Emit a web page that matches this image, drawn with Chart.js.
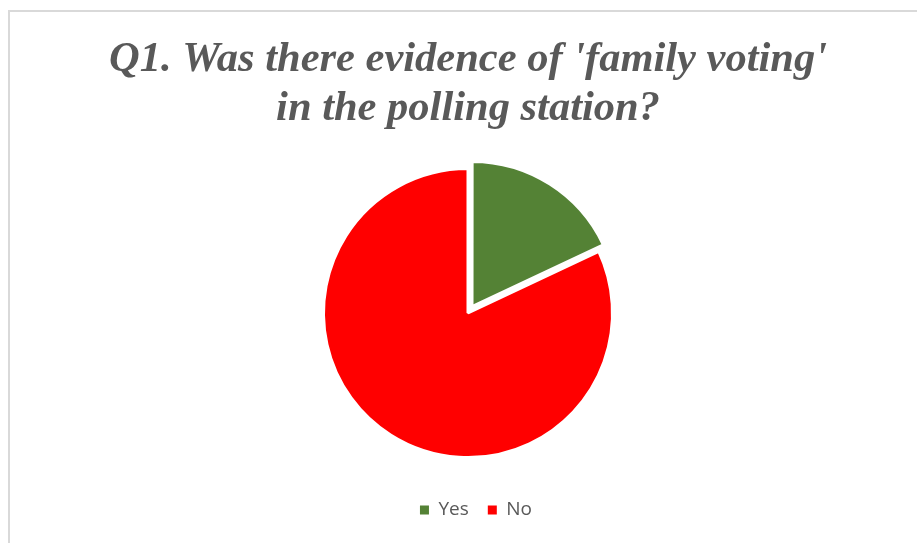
<!DOCTYPE html>
<html>
<head>
<meta charset="utf-8">
<script src="https://cdn.jsdelivr.net/npm/chart.js@4.4.1/dist/chart.umd.min.js"></script>
<style>
  html, body { margin: 0; padding: 0; background: #ffffff; }
  #wrap { position: relative; width: 917px; height: 543px; overflow: hidden; }
  #frame { position: absolute; left: 8px; top: 10px; width: 1200px; height: 1200px;
           border-top: 2px solid #d9d9d9; border-left: 2px solid #d9d9d9; box-sizing: border-box; }
  canvas { position: absolute; left: 0; top: 0; }
</style>
</head>
<body>
<div id="wrap">
  <div id="frame"></div>
  <canvas id="c" width="917" height="543"></canvas>
</div>
<script>
const titleLines = ["Q1. Was there evidence of 'family voting'", "in the polling station?"];
const categories = ["Yes", "No"];
const values = [18, 82];
const sliceColors = ["#548235", "#FF0000"];
const sliceOffsets = [30, 0];

const legendShift = {
  id: 'legendShift',
  afterLayout(chart) {
    if (chart.legend) { chart.legend.left += 8; chart.legend.right += 8; }
  }
};

new Chart(document.getElementById('c'), {
  type: 'pie',
  data: {
    labels: categories,
    datasets: [{
      data: values,
      backgroundColor: sliceColors,
      borderColor: '#ffffff',
      borderWidth: 3,
      offset: sliceOffsets,
      hoverOffset: 0
    }]
  },
  options: {
    responsive: false,
    animation: false,
    radius: 144.5,
    layout: { padding: { left: 19, right: 0, top: 0, bottom: 13.5 } },
    plugins: {
      title: {
        display: true,
        text: titleLines,
        color: '#595959',
        font: { family: "'Liberation Serif', 'Times New Roman', serif", size: 42.5, weight: 'bold', style: 'italic', lineHeight: 1.153 },
        padding: { top: 36, bottom: 10.5 }
      },
      legend: {
        position: 'bottom',
        labels: {
          color: '#595959',
          font: { family: "'Open Sans', sans-serif", size: 19 },
          boxWidth: 9,
          boxHeight: 9,
          padding: 19,
          generateLabels(chart) {
            const items = Chart.controllers.pie.overrides.plugins.legend.labels.generateLabels(chart);
            items.forEach(it => { it.lineWidth = 0; it.strokeStyle = it.fillStyle; });
            return items;
          }
        }
      },
      tooltip: { enabled: false }
    }
  },
  plugins: [legendShift]
});
</script>
</body>
</html>
